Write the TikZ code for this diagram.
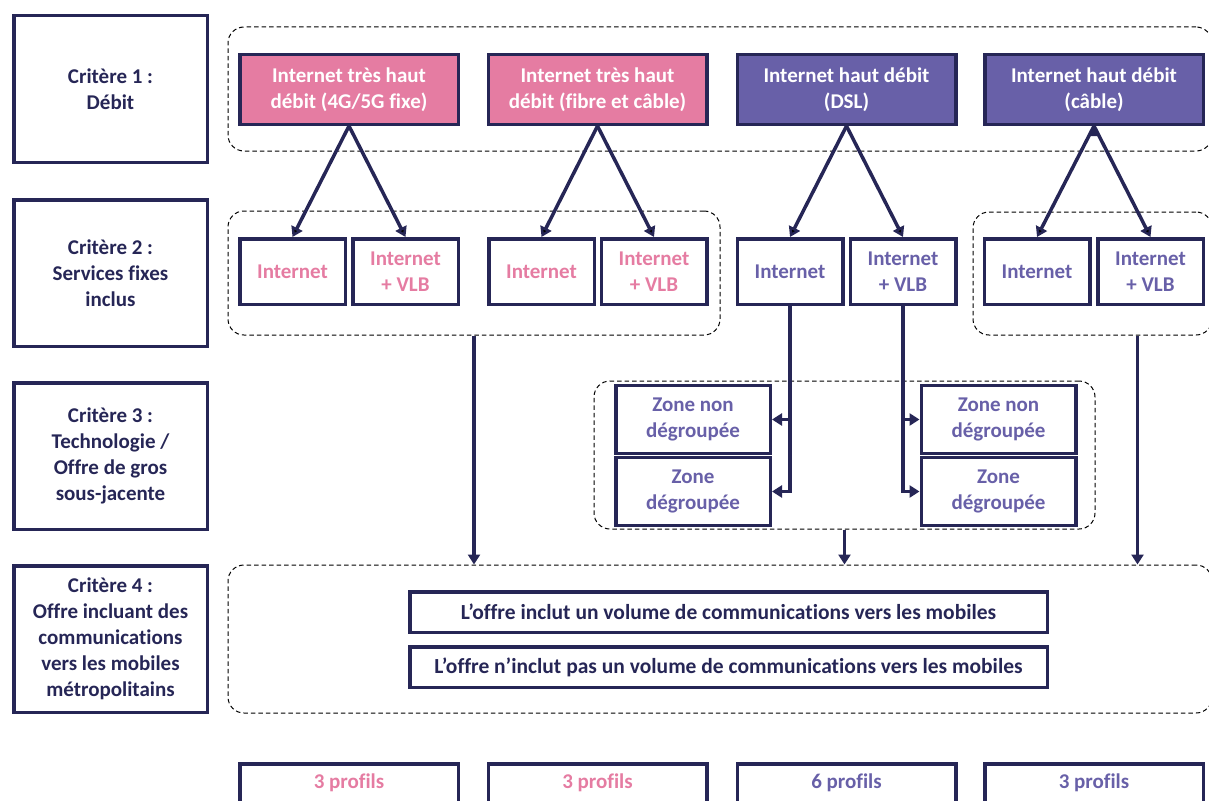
\documentclass[tikz,border=0pt]{standalone}
\usepackage{fontspec}
\setmainfont[Ligatures=NoCommon]{Carlito}
\usepackage{xcolor}
\usepackage{tikz}
\usetikzlibrary{arrows.meta}
\definecolor{navy}{RGB}{38,38,86}
\definecolor{pinkthd}{RGB}{229,124,162}
\definecolor{violethd}{RGB}{104,96,168}

\begin{document}
\begin{tikzpicture}
      [ x=1pt, y=-1pt, >={Triangle[length=10pt,width=12pt]},
        every node/.style={font=\bfseries\fontsize{21}{26}\selectfont, align=center, inner sep=0pt},
        crit/.style={draw=navy, line width=3.5pt, text=navy, minimum width=193.5pt, minimum height=146.5pt},
        speed/.style={draw=navy, line width=3.5pt, text=white, minimum width=218.5pt, minimum height=69.5pt},
        serv/.style={draw=navy, line width=3.5pt, minimum width=105.5pt, minimum height=65.5pt},
        zone/.style={draw=navy, line width=3.5pt, text=violethd, minimum width=154.5pt, minimum height=68pt},
        offer/.style={draw=navy, line width=3.5pt, text=navy, minimum width=637.5pt, minimum height=40.5pt,
                      font=\bfseries\fontsize{21.5}{25}\selectfont},
        prof/.style={draw=navy, line width=3.5pt, minimum width=218.5pt, minimum height=38.5pt},
        grp/.style={draw=black, line width=1pt, dash pattern=on 4.5pt off 3pt, rounded corners=16pt},
        link/.style={->, draw=navy, line width=3.5pt}
      ]
      \useasboundingbox (0,0) rectangle (1209,800);

      % criteres
      \node[crit] (c1) at (110.5,89)  {Critère 1 :\\Débit};
      \node[crit] (c2) at (110.5,273) {Critère 2 :\\Services fixes\\inclus};
      \node[crit] (c3) at (110.5,456) {Critère 3 :\\Technologie /\\Offre de gros\\sous-jacente};
      \node[crit] (c4) at (110.5,639) {Critère 4 :\\Offre incluant des\\communications\\vers les mobiles\\métropolitains};

      % groupes en pointilles
      \node[grp, minimum width=984pt, minimum height=124pt] (g0) at (720,89)    {};
      \node[grp, minimum width=492pt, minimum height=124pt] (g1) at (474,273)   {};
      \node[grp, minimum width=239pt, minimum height=123pt] (gD) at (1092.5,273.5) {};
      \node[grp, minimum width=501pt, minimum height=148pt] (gZ) at (844.5,455) {};
      \node[grp, minimum width=984pt, minimum height=148pt] (g4) at (720,639)   {};

      % debits
      \node[speed, fill=pinkthd]  (sA) at (349,89.5)    {Internet très haut\\débit (4G/5G fixe)};
      \node[speed, fill=pinkthd]  (sB) at (597.5,89.5)  {Internet très haut\\débit (fibre et câble)};
      \node[speed, fill=violethd] (sC) at (846.5,89.5)  {Internet haut débit\\(DSL)};
      \node[speed, fill=violethd] (sD) at (1094,89.5)   {Internet haut débit\\(câble)};

      % services
      \node[serv, text=pinkthd]  (iA) at (292.5,271.5) {Internet};
      \node[serv, text=pinkthd]  (vA) at (405.5,271.5) {Internet\\+ VLB};
      \node[serv, text=pinkthd]  (iB) at (541.5,271.5) {Internet};
      \node[serv, text=pinkthd]  (vB) at (654,271.5)   {Internet\\+ VLB};
      \node[serv, text=violethd] (iC) at (790,271.5)   {Internet};
      \node[serv, text=violethd] (vC) at (903,271.5)   {Internet\\+ VLB};
      \node[serv, text=violethd] (iD) at (1037,271.5)  {Internet};
      \node[serv, text=violethd] (vD) at (1150.5,271.5) {Internet\\+ VLB};

      % zones
      \node[zone] (zL1) at (693,419.5)  {Zone non\\dégroupée};
      \node[zone] (zL2) at (693,491.5)  {Zone\\dégroupée};
      \node[zone] (zR1) at (998.5,419.5) {Zone non\\dégroupée};
      \node[zone] (zR2) at (998.5,491.5) {Zone\\dégroupée};

      % offres
      \node[offer] (o1) at (728.5,612) {L’offre inclut un volume de communications vers les mobiles};
      \node[offer] (o2) at (728.5,667) {L’offre n’inclut pas un volume de communications vers les mobiles};

      % profils
      \node[prof, text=pinkthd]  (pA) at (349,783)   {3 profils};
      \node[prof, text=pinkthd]  (pB) at (597.5,783) {3 profils};
      \node[prof, text=violethd] (pC) at (846.5,783) {6 profils};
      \node[prof, text=violethd] (pD) at (1094,783)  {3 profils};

      \path[link] (sA.south) edge (iA.north)
                  (sA.south) edge (vA.north)
                  (sB.south) edge (iB.north)
                  (sB.south) edge (vB.north)
                  (sC.south) edge (iC.north)
                  (sC.south) edge (vC.north)
                  (sD.south) edge (iD.north)
                  (sD.south) edge (vD.north);

      \draw[link] (iC.south) |- (zL2.east);
      \draw[link] (iC.south |- zL1.east) -- (zL1.east);
      \draw[link] (vC.south) |- (zR2.west);
      \draw[link] (vC.south |- zR1.west) -- (zR1.west);

      \draw[link] (g1.south) -- (g1.south |- g4.north);
      \draw[link] (gZ.south) -- (gZ.south |- g4.north);
      \draw[link] ([xshift=45pt]gD.south) -- ([xshift=45pt]gD.south |- g4.north);
    \end{tikzpicture}
\end{document}
